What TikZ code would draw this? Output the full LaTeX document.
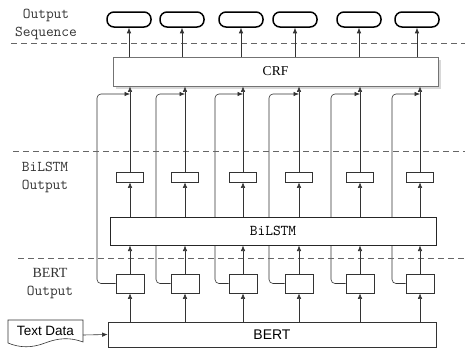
\documentclass[tikz,border=0pt]{standalone}
\usepackage{fontspec}
\newfontfamily\sansA{Liberation Sans}
\newfontfamily\serifT{Liberation Serif}
\usetikzlibrary{arrows.meta,shadows,backgrounds,calc}
\begin{document}
\begin{tikzpicture}[x=1pt,y=-1pt,
  line/.style={draw=black!80, line width=0.6pt},
  arr/.style={line, -{Latex[length=5.5pt,width=4.5pt]}},
  sep/.style={draw=black!60, line width=0.9pt, dash pattern=on 6pt off 4pt},
  oval/.style={draw=black, line width=1.5pt, rounded corners=7pt, minimum width=44pt, minimum height=15pt, inner sep=0pt},
  bigbox/.style={fill=white, inner sep=0pt},
  hbox/.style={draw=black!80, line width=0.7pt, fill=white, minimum width=27pt, minimum height=10pt, inner sep=0pt},
  bbox/.style={draw=black!80, line width=0.7pt, fill=white, minimum width=28pt, minimum height=19pt, inner sep=0pt},
  lab/.style={align=center, font=\ttfamily\fontsize{15}{18}\selectfont, text=black!80},
]
\useasboundingbox (0,0) rectangle (465,349);

% labels
\node[lab] (l1) at (46,24) {Output\\Sequence};
\node[lab] (l2) at (45,177) {BiLSTM\\Output};
\node[lab] (l3) at (50,284) {{\serifT\fontsize{14}{18}\selectfont BERT}\\Output};

% separators
\draw[sep] (11,43) -- (465,43);
\draw[sep] (13,151) -- (465,151);
\draw[sep] (18,258) -- (465,258);

% big boxes
\node[bigbox, draw=black!55, line width=0.8pt, minimum width=325pt, minimum height=29pt,
  drop shadow={shadow xshift=2.5pt, shadow yshift=-2.5pt, fill=black!30}] (crf) at (275.5,71.5)
  {\serifT\fontsize{13.5}{16}\selectfont CRF};
\node[bigbox, draw=black!85, line width=1pt, minimum width=326pt, minimum height=28pt] (bilstm) at (273,231)
  {\ttfamily\fontsize{15}{18}\selectfont BiLSTM};
\node[bigbox, draw=black!80, line width=0.8pt, minimum width=328pt, minimum height=25pt] (bert) at (272,334.5)
  {\sansA\fontsize{14}{16}\selectfont BERT};

% text data document
\node[inner sep=0pt] (td) at (45.5,331) {\sansA\fontsize{13.5}{16}\selectfont Text Data};
\draw[line] (8,320) -- (83,320) -- (83,342) .. controls (70,337) and (58,338) .. (45,343)
  .. controls (32,348) and (20,348) .. (8,343) -- cycle;
\coordinate (tdr) at (83,335);
\draw[arr] (tdr) -- (bert.west);

% columns
\foreach \i/\c/\o/\s in {1/130/129/97, 2/185/182/156, 3/243/241/215, 4/299/295/269, 5/360/359/331, 6/420/417/392}{
  \node[oval] (o\i) at (\o,19.5) {};
  \node[hbox] (h\i) at (\c,177) {};
  \node[bbox] (b\i) at (\c,283.5) {};
  \coordinate (k\i) at (\s,94);
  \draw[arr] (o\i |- crf.north) -- (o\i.south);
  \draw[arr] (h\i.north) -- (h\i |- crf.south);
  \draw[arr] (h\i |- bilstm.north) -- (h\i.south);
  \draw[arr] (b\i.north) -- (b\i |- bilstm.south);
  \draw[arr] (b\i |- bert.north) -- (b\i.south);
  \begin{scope}[on background layer]
    \draw[arr, rounded corners=4pt] (b\i.west) -| (k\i) -- (k\i -| h\i);
  \end{scope}
}
\end{tikzpicture}
\end{document}
